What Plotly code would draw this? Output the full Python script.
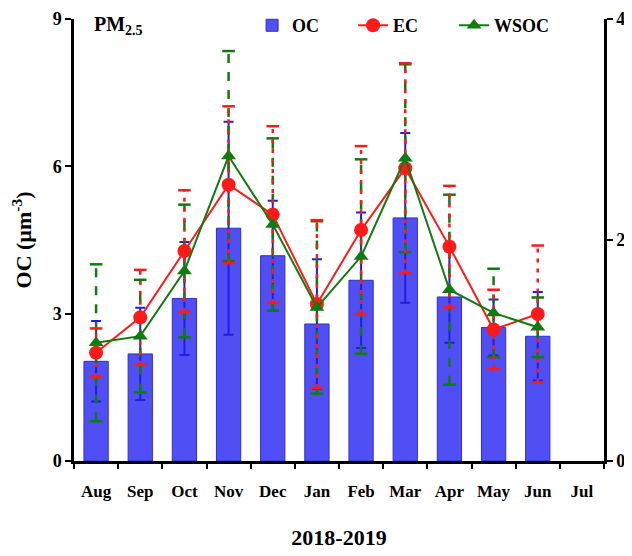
import plotly.graph_objects as go

months = ["Aug", "Sep", "Oct", "Nov", "Dec", "Jan", "Feb", "Mar", "Apr", "May", "Jun", "Jul"]
oc = [2.03, 2.18, 3.31, 4.74, 4.18, 2.79, 3.68, 4.95, 3.34, 2.72, 2.54, None]
oc_err = [0.82, 0.94, 1.15, 2.17, 1.12, 1.32, 1.38, 1.73, 0.93, 0.57, 0.90, None]
ec = [0.98, 1.30, 1.90, 2.50, 2.23, 1.42, 2.09, 2.65, 1.94, 1.19, 1.33, None]
ec_err = [0.22, 0.43, 0.55, 0.71, 0.80, 0.76, 0.76, 0.95, 0.55, 0.36, 0.62, None]
wsoc = [1.07, 1.13, 1.72, 2.76, 2.14, 1.39, 1.85, 2.74, 1.55, 1.34, 1.21, None]
wsoc_err = [0.71, 0.51, 0.60, 0.95, 0.78, 0.78, 0.88, 0.85, 0.86, 0.40, 0.27, None]

FONT = "Liberation Serif"
BLUE = "#4F4FF5"
RED = "#FF1A1A"
GREEN = "#117A11"


def err_segments(vals, errs):
    xs, ys, cx, cy = [], [], [], []
    for m, v, e in zip(months, vals, errs):
        if v is None or e is None:
            continue
        xs += [m, m, None]
        ys += [v - e, v + e, None]
        cx += [m, m]
        cy += [v - e, v + e]
    return xs, ys, cx, cy


fig = go.Figure()

fig.add_trace(go.Bar(
    x=months, y=oc, name="OC", width=0.55,
    marker=dict(color=BLUE, line=dict(color="#2F2FD0", width=1)),
    error_y=dict(type="data", array=oc_err, color="#1F1FE0", thickness=2, width=5),
    yaxis="y",
))

for vals, errs, col, dash in [(wsoc, wsoc_err, GREEN, "dash"), (ec, ec_err, RED, "4px,6px")]:
    xs, ys, cx, cy = err_segments(vals, errs)
    fig.add_trace(go.Scatter(x=xs, y=ys, mode="lines", yaxis="y2", showlegend=False,
                             line=dict(color=col, width=2.5, dash=dash), hoverinfo="skip"))
    fig.add_trace(go.Scatter(x=cx, y=cy, mode="markers", yaxis="y2", showlegend=False,
                             marker=dict(symbol="line-ew", size=9, line=dict(color=col, width=2.5)),
                             hoverinfo="skip"))

fig.add_trace(go.Scatter(
    x=months, y=ec, name="EC", mode="lines+markers", yaxis="y2",
    line=dict(color=RED, width=2), marker=dict(symbol="circle", size=14, color=RED),
))
fig.add_trace(go.Scatter(
    x=months, y=wsoc, name="WSOC", mode="lines+markers", yaxis="y2",
    line=dict(color=GREEN, width=2), marker=dict(symbol="triangle-up", size=13, color=GREEN),
))

tick_font = dict(family=FONT, size=17, color="black", weight="bold")
ytick_font = dict(family=FONT, size=18, color="black", weight="bold")
title_font = dict(family=FONT, size=22, color="black", weight="bold")

fig.update_layout(
    width=632, height=556,
    margin=dict(l=66, r=36, t=11, b=103, autoexpand=False),
    paper_bgcolor="white", plot_bgcolor="white",
    font=dict(family=FONT, color="black"),
    showlegend=True,
    legend=dict(orientation="h", x=0.336, y=1.027, xanchor="left", yanchor="top",
                font=dict(family=FONT, size=18, color="black", weight="bold"),
                bgcolor="rgba(0,0,0,0)", entrywidth=56, entrywidthmode="pixels",
                tracegroupgap=0),
    xaxis=dict(
        categoryorder="array", categoryarray=months, range=[-0.5, 11.5],
        showline=True, linecolor="black", linewidth=2.5,
        ticks="outside", tickson="boundaries", ticklen=5, tickwidth=2, tickcolor="black",
        tickfont=tick_font, tickangle=0, ticklabelstandoff=13, ticklabeloverflow="allow",
        showgrid=False, zeroline=False,
        title=dict(text="2018-2019", font=title_font, standoff=30),
    ),
    yaxis=dict(
        range=[0, 9], tickvals=[0, 3, 6, 9], showline=True, linecolor="black", linewidth=2.5,
        ticks="outside", ticklen=6, tickwidth=2, tickcolor="black", ticklabeloverflow="allow",
        tickfont=ytick_font, showgrid=False, zeroline=False,
        title=dict(text="OC (µm<sup>-3</sup>)", font=title_font, standoff=20),
    ),
    yaxis2=dict(
        range=[0, 4], tickvals=[0, 2, 4], overlaying="y", side="right",
        showline=True, linecolor="black", linewidth=2.5,
        ticks="outside", ticklen=6, tickwidth=2, tickcolor="black", ticklabeloverflow="allow",
        tickfont=ytick_font, showgrid=False, zeroline=False,
    ),
    annotations=[dict(
        text="PM<sub>2.5</sub>", xref="paper", yref="paper", x=0.034, y=0.986,
        xanchor="left", yanchor="middle", showarrow=False,
        font=dict(family=FONT, size=20, color="black", weight="bold"),
    )],
)

fig.write_html("out.html")
